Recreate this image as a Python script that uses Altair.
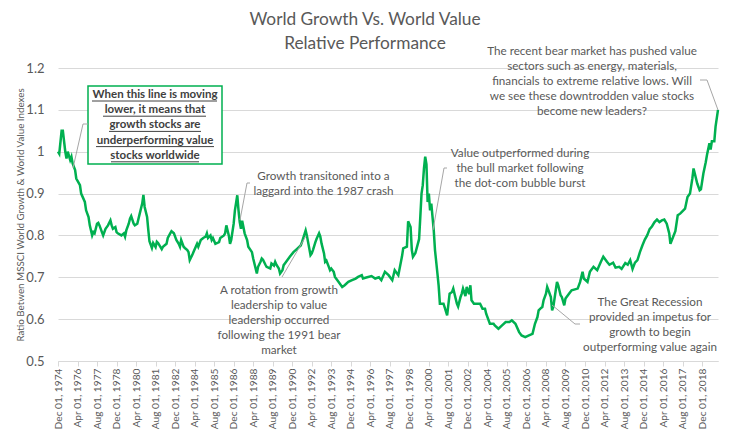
import altair as alt
import pandas as pd

# ---------------- data ----------------
dates = [
    "1974-12",
    "1975-01", "1975-03", "1975-04", "1975-06", "1975-07", "1975-08", "1975-10", "1975-11", "1975-12",
    "1976-02", "1976-03", "1976-06", "1976-07", "1976-10", "1976-11",
    "1977-01", "1977-02", "1977-04", "1977-05", "1977-06", "1977-08", "1977-09", "1977-10", "1977-12",
    "1978-01", "1978-03", "1978-05", "1978-07", "1978-08", "1978-09", "1978-11", "1978-12",
    "1979-01", "1979-04", "1979-06", "1979-07", "1979-08", "1979-10", "1979-11", "1979-12",
    "1980-02", "1980-03", "1980-05", "1980-07", "1980-09", "1980-10", "1980-11",
    "1981-01", "1981-02", "1981-03", "1981-05", "1981-06", "1981-08", "1981-09", "1981-10",
    "1982-01", "1982-02", "1982-05", "1982-06", "1982-08", "1982-09", "1982-11", "1982-12",
    "1983-01", "1983-03", "1983-04", "1983-05", "1983-07", "1983-08", "1983-10", "1983-11", "1983-12",
    "1984-02", "1984-03", "1984-06", "1984-07", "1984-09", "1984-11",
    "1985-01", "1985-02", "1985-03", "1985-05", "1985-06", "1985-07", "1985-09", "1985-12",
    "1986-01", "1986-04", "1986-05", "1986-06", "1986-08", "1986-09", "1986-10", "1986-12",
    "1987-01", "1987-03", "1987-04", "1987-05", "1987-06", "1987-07", "1987-09", "1987-11", "1987-12",
    "1988-03", "1988-04", "1988-06", "1988-07", "1988-08", "1988-10", "1988-11", "1988-12",
    "1989-02", "1989-03", "1989-06", "1989-07", "1989-09", "1989-10", "1989-11",
    "1990-01", "1990-02", "1990-04", "1990-05", "1990-06", "1990-10",
    "1991-01", "1991-04", "1991-07", "1991-08", "1991-11", "1991-12",
    "1992-01", "1992-03", "1992-04", "1992-05", "1992-07", "1992-08", "1992-10", "1992-11", "1992-12",
    "1993-02", "1993-03", "1993-04", "1993-06", "1993-07", "1993-08", "1993-10", "1993-11",
    "1994-02", "1994-05", "1994-07", "1994-10",
    "1995-01", "1995-04", "1995-06", "1995-09", "1995-10", "1995-12",
    "1996-05", "1996-08", "1996-11",
    "1997-01", "1997-04", "1997-07", "1997-10", "1997-12",
    "1998-03", "1998-06", "1998-07", "1998-10", "1998-11",
    "1999-01", "1999-02", "1999-03", "1999-05", "1999-08", "1999-09", "1999-10", "1999-11", "1999-12",
    "2000-01", "2000-02", "2000-03", "2000-04", "2000-05", "2000-06", "2000-08", "2000-09", "2000-11", "2000-12",
    "2001-01", "2001-04", "2001-05", "2001-07", "2001-09", "2001-11", "2001-12",
    "2002-03", "2002-04", "2002-06", "2002-07", "2002-08", "2002-10", "2002-11",
    "2003-01", "2003-02", "2003-03", "2003-05", "2003-08", "2003-10", "2003-12",
    "2004-02", "2004-03", "2004-06", "2004-09", "2004-10",
    "2005-01", "2005-04", "2005-07", "2005-10", "2005-12",
    "2006-03", "2006-06", "2006-08", "2006-11",
    "2007-02", "2007-05", "2007-07", "2007-09", "2007-10", "2007-12",
    "2008-01", "2008-02", "2008-04", "2008-05", "2008-06", "2008-08", "2008-09", "2008-10", "2008-12",
    "2009-01", "2009-02", "2009-04", "2009-05", "2009-07", "2009-08", "2009-11",
    "2010-01", "2010-06", "2010-08", "2010-10", "2010-11",
    "2011-02", "2011-04", "2011-07", "2011-10",
    "2012-01", "2012-03", "2012-06", "2012-08", "2012-11",
    "2013-01", "2013-04", "2013-06", "2013-09", "2013-11",
    "2014-01", "2014-03", "2014-05", "2014-07", "2014-09", "2014-11",
    "2015-01", "2015-03", "2015-05", "2015-07", "2015-09", "2015-11",
    "2016-01", "2016-03", "2016-05", "2016-07", "2016-09", "2016-10", "2016-12",
    "2017-02", "2017-04", "2017-06", "2017-08", "2017-10", "2017-12",
    "2018-02", "2018-04", "2018-05", "2018-06", "2018-08", "2018-10", "2018-11",
    "2019-01", "2019-03", "2019-04", "2019-06", "2019-07", "2019-08", "2019-10", "2019-11",
    "2020-01",
]

ratios = [
    1.00,
    0.995, 1.05, 1.05, 1.00, 0.984, 1.00, 0.98, 0.988, 0.972,
    0.956, 0.936, 0.92, 0.90, 0.88, 0.86,
    0.844, 0.824, 0.80, 0.808, 0.805, 0.828, 0.83, 0.824, 0.808,
    0.80, 0.816, 0.824, 0.836, 0.824, 0.816, 0.82, 0.808,
    0.805, 0.80, 0.805, 0.797, 0.812, 0.828, 0.84, 0.846,
    0.828, 0.824, 0.828, 0.852, 0.876, 0.897, 0.868,
    0.844, 0.812, 0.786, 0.77, 0.782, 0.772, 0.785, 0.782,
    0.767, 0.773, 0.78, 0.794, 0.805, 0.81, 0.805, 0.797,
    0.789, 0.78, 0.773, 0.789, 0.773, 0.77, 0.765, 0.76, 0.741,
    0.753, 0.76, 0.78, 0.773, 0.789, 0.794,
    0.797, 0.805, 0.794, 0.80, 0.789, 0.794, 0.78, 0.784,
    0.794, 0.80, 0.805, 0.824, 0.80, 0.78, 0.789, 0.828,
    0.86, 0.896, 0.86, 0.832, 0.816, 0.835, 0.805, 0.789, 0.773,
    0.76, 0.745, 0.721, 0.709, 0.725, 0.737, 0.745, 0.742,
    0.73, 0.725, 0.721, 0.733, 0.728, 0.737, 0.73,
    0.721, 0.709, 0.717, 0.729, 0.733, 0.749,
    0.76, 0.768, 0.776, 0.784, 0.812, 0.80,
    0.784, 0.753, 0.757, 0.765, 0.784, 0.792, 0.805, 0.797, 0.781,
    0.757, 0.737, 0.74, 0.725, 0.717, 0.721, 0.713, 0.701,
    0.689, 0.677, 0.681, 0.689,
    0.693, 0.697, 0.701, 0.705, 0.697, 0.699,
    0.703, 0.697, 0.70,
    0.693, 0.713, 0.705, 0.693, 0.717,
    0.705, 0.75, 0.769, 0.773, 0.834,
    0.82, 0.765, 0.749, 0.758, 0.791, 0.845, 0.90, 0.92, 0.96,
    0.988, 0.97, 0.88, 0.90, 0.86, 0.876, 0.812, 0.765, 0.709, 0.68,
    0.637, 0.637, 0.628, 0.609, 0.661, 0.665, 0.673,
    0.637, 0.63, 0.653, 0.661, 0.673, 0.655, 0.677,
    0.66, 0.681, 0.645, 0.637, 0.637, 0.637, 0.625,
    0.625, 0.613, 0.589, 0.589, 0.585,
    0.577, 0.585, 0.593, 0.593, 0.597,
    0.589, 0.569, 0.561, 0.557,
    0.561, 0.565, 0.589, 0.605, 0.621, 0.627,
    0.629, 0.645, 0.661, 0.677, 0.669, 0.653, 0.621, 0.629, 0.669,
    0.689, 0.681, 0.657, 0.653, 0.633, 0.649, 0.661,
    0.669, 0.673, 0.689, 0.713, 0.697,
    0.689, 0.713, 0.725, 0.717,
    0.737, 0.749, 0.737, 0.73, 0.735,
    0.723, 0.725, 0.72, 0.734, 0.73,
    0.741, 0.72, 0.735, 0.741, 0.76, 0.776,
    0.79, 0.80, 0.815, 0.822, 0.832, 0.838,
    0.832, 0.836, 0.838, 0.828, 0.805, 0.78, 0.795,
    0.81, 0.848, 0.852, 0.858, 0.864, 0.892,
    0.90, 0.936, 0.96, 0.948, 0.924, 0.908, 0.91,
    0.948, 0.975, 0.992, 1.02, 1.005, 1.025, 1.025, 1.06,
    1.10,
]

x_domain = ["1974-12", "2020-01"]
tick_dates = [
    "1974-12", "1976-04", "1977-08", "1978-12", "1980-04", "1981-08", "1982-12",
    "1984-04", "1985-08", "1986-12", "1988-04", "1989-08", "1990-12", "1992-04",
    "1993-08", "1994-12", "1996-04", "1997-08", "1998-12", "2000-04", "2001-08",
    "2002-12", "2004-04", "2005-08", "2006-12", "2008-04", "2009-08", "2010-12",
    "2012-04", "2013-08", "2014-12", "2016-04", "2017-08", "2018-12",
]
y_ticks = [0.5, 0.6, 0.7, 0.8, 0.9, 1.0, 1.1, 1.2]

title_lines = ["World Growth Vs. World Value", "Relative Performance"]
y_title = "Ratio Betwen MSSCI World Growth & World Value Indexes"
note_box = ["When this line is moving", "lower, it means that", "growth stocks are",
            "underperforming value", "stocks worldwide"]
note_1987 = ["Growth transitoned into a", "laggard into the 1987 crash"]
note_1991 = ["A rotation from growth", "leadership to value", "leadership occurred",
             "following the 1991 bear", "market"]
note_dotcom = ["Value outperformed during", "the bull market following", "the dot-com bubble burst"]
note_recent = ["The recent bear market has pushed value", "sectors such as energy, materials,",
               "financials to extreme relative lows.  Will", "we see these downtrodden value stocks",
               "become new leaders?"]
note_gfc = ["The Great Recession", "provided an impetus for", "growth to begin",
            "outperforming value again"]

# ---------------- layout / style ----------------
PAD_L, PAD_T, PAD_R, PAD_B = 50, 60, 5, 73
W, H = 660, 293
OX, OY = PAD_L + 8, PAD_T + 8          # page position of the plot origin
GRAY = "#595959"
DARK = "#404040"
GRID = "#D9D9D9"
LEAD = "#A6A6A6"
GREEN = "#00B050"
FONT = "Lato"
NOTE_SIZE = 11.7
one = pd.DataFrame({"k": [0]})


def px(x):
    return x - OX


def py(y):
    return y - OY


def dt(s):
    y, m = s.split("-")
    return alt.DateTime(year=int(y), month=int(m), date=1)


def text_block(lines, cx, first_y, size=NOTE_SIZE, weight="normal", color=GRAY, lh=15):
    # first_y: page y of the centre of the first line
    return alt.Chart(one).mark_text(
        text=lines, font=FONT, fontSize=size, fontWeight=weight, color=color,
        align="center", baseline="middle", lineHeight=lh,
    ).encode(x=alt.value(px(cx)), y=alt.value(py(first_y)))


def seg(x1, y1, x2, y2, color=LEAD, w=1.0):
    return alt.Chart(one).mark_rule(color=color, strokeWidth=w).encode(
        x=alt.value(px(x1)), y=alt.value(py(y1)),
        x2=alt.value(px(x2)), y2=alt.value(py(y2)),
    )


df = pd.DataFrame({"date": pd.to_datetime(dates), "ratio": ratios})

line = alt.Chart(df).mark_line(color=GREEN, strokeWidth=2.5).encode(
    x=alt.X(
        "date:T",
        scale=alt.Scale(domain=[dt(d) for d in x_domain], nice=False),
        axis=alt.Axis(
            values=[dt(d) for d in tick_dates], format="%b %d, %Y", labelAngle=270,
            labelFont=FONT, labelFontSize=10.2, labelColor=GRAY, labelPadding=2,
            grid=False, domainColor=GRID, tickColor=GRID, tickSize=5, title=None,
            labelOverlap=False, labelFlush=False,
        ),
    ),
    y=alt.Y(
        "ratio:Q",
        scale=alt.Scale(domain=[0.5, 1.2], nice=False, zero=False),
        axis=alt.Axis(
            values=y_ticks, format="~g", labelFont=FONT, labelFontSize=13,
            labelColor=GRAY, labelPadding=14, ticks=False, tickSize=0, domain=False,
            gridColor=GRID, gridWidth=1,
            title=y_title, titleFont=FONT, titleFontSize=9.8, titleFontWeight="normal",
            titleColor=GRAY, titleX=px(20), titleY=py(214.5), titleAngle=270,
            titleAlign="center", titleBaseline="middle",
        ),
    ),
)

layers = [line]

# title
layers.append(text_block(title_lines, 365, 20, size=17.3, color=GRAY, lh=24))

# boxed, bold, underlined note
layers.append(
    alt.Chart(one).mark_rect(fill="white", stroke=GREEN, strokeWidth=1.5).encode(
        x=alt.value(px(88)), x2=alt.value(px(222)), y=alt.value(py(86)), y2=alt.value(py(164))
    )
)
layers.append(text_block(note_box, 155, 95, size=11.5, weight="bold", color=DARK, lh=15.2))
underline_spans = [(92, 217), (103, 206), (109, 201), (96, 214), (111, 199)]
for i, (a, b) in enumerate(underline_spans):
    yy = 95 + 15.2 * i + 6
    layers.append(seg(a, yy, b, yy, color=DARK, w=1))

# other notes
layers.append(text_block(note_1987, 323.5, 176, lh=14.7))
layers.append(text_block(note_1991, 279, 290))
layers.append(text_block(note_dotcom, 520, 153.3, lh=14.7))
layers.append(text_block(note_recent, 592, 50.7))
layers.append(text_block(note_gfc, 650, 301.7))

# leader lines
leaders = [
    [(88, 124), (83, 124), (73, 168)],
    [(250, 183), (247, 183), (240, 220)],
    [(282, 277), (306, 236)],
    [(447, 168), (444, 168), (433, 230)],
    [(700, 80), (707, 80), (718, 110)],
    [(580, 324), (575, 324), (552, 305)],
]
for pts in leaders:
    for (x1, y1), (x2, y2) in zip(pts[:-1], pts[1:]):
        layers.append(seg(x1, y1, x2, y2))

chart = alt.layer(*layers).properties(
    width=W, height=H,
    autosize=alt.AutoSizeParams(type="none"),
    padding={"left": PAD_L, "top": PAD_T, "right": PAD_R, "bottom": PAD_B},
).configure_view(stroke=None)

chart.save("out.html", embed_options={"renderer": "svg", "actions": False})
